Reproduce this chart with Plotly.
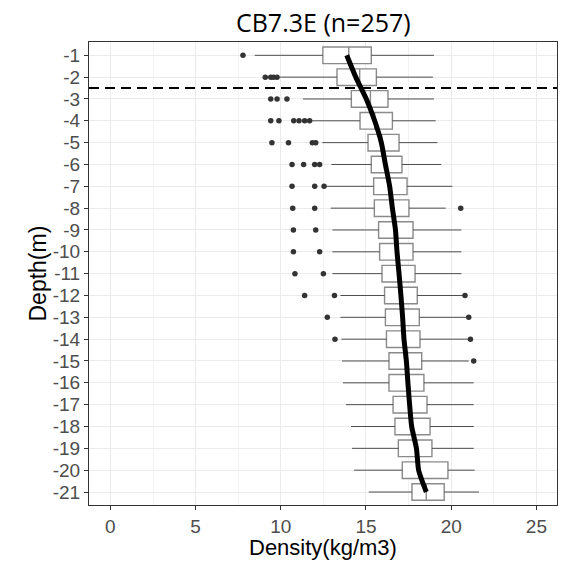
import plotly.graph_objects as go

depths = [-1, -2, -3, -4, -5, -6, -7, -8, -9, -10, -11, -12, -13, -14, -15, -16, -17, -18, -19, -20, -21]
depth_labels = [str(d) for d in depths]

lower_whisker = [8.47, 9.93, 11.30, 11.75, 12.44, 12.97, 12.68, 12.93, 13.03, 13.03, 13.03,
                 13.50, 13.50, 13.56, 13.59, 13.65, 13.83, 14.12, 14.18, 14.30, 15.16]
q1 = [12.47, 13.30, 14.14, 14.65, 15.12, 15.31, 15.45, 15.49, 15.74, 15.80, 15.94,
      16.09, 16.14, 16.20, 16.35, 16.35, 16.59, 16.70, 16.90, 17.13, 17.70]
median = [13.99, 14.63, 15.26, 15.51, 15.92, 16.15, 16.39, 16.55, 16.72, 16.82, 16.93,
          17.05, 17.15, 17.23, 17.37, 17.46, 17.56, 17.68, 17.96, 18.09, 18.54]
q3 = [15.31, 15.61, 16.29, 16.55, 16.94, 17.11, 17.41, 17.52, 17.76, 17.76, 17.88,
      18.01, 18.13, 18.17, 18.27, 18.40, 18.58, 18.76, 18.87, 19.81, 19.59]
upper_whisker = [18.99, 18.93, 18.99, 19.09, 19.19, 19.42, 20.07, 19.68, 20.60, 20.60, 20.60,
                 20.69, 20.89, 20.99, 21.03, 21.32, 21.32, 21.32, 21.32, 21.38, 21.63]
outliers = {
    -1: [7.78],
    -2: [9.09, 9.41, 9.58, 9.78],
    -3: [9.41, 9.78, 10.36],
    -4: [9.41, 9.89, 10.76, 11.07, 11.40, 11.69],
    -5: [9.48, 10.45, 11.85, 12.05],
    -6: [10.66, 11.34, 11.99, 12.28],
    -7: [10.66, 11.99, 12.54],
    -8: [10.70, 11.99, 20.56],
    -9: [10.74, 12.05],
    -10: [10.74, 12.28],
    -11: [10.83, 12.50],
    -12: [11.40, 13.15, 20.81],
    -13: [12.73, 21.03],
    -14: [13.18, 21.13],
    -15: [21.32],
}
trend = [13.87, 14.40, 15.02, 15.51, 15.90, 16.14, 16.39, 16.55, 16.73, 16.82, 16.94,
         17.05, 17.15, 17.23, 17.37, 17.46, 17.56, 17.68, 17.96, 18.09, 18.54]
boundary_depth = -2.5
title_text = "CB7.3E (n=257)"
x_title = "Density(kg/m3)"
y_title = "Depth(m)"
x_ticks = [0, 5, 10, 15, 20, 25]

fig = go.Figure()

# whiskers
wx, wy = [], []
for d, lo, a, b, hi in zip(depths, lower_whisker, q1, q3, upper_whisker):
    wx += [lo, a, None, b, hi, None]
    wy += [d, d, None, d, d, None]
fig.add_trace(go.Scatter(x=wx, y=wy, mode="lines", line=dict(color="#4d4d4d", width=1),
                         hoverinfo="skip", showlegend=False))

# boxes
fig.add_trace(go.Box(y=depths, q1=q1, median=median, q3=q3, lowerfence=q1, upperfence=q3,
                     orientation="h", width=0.76, boxpoints=False,
                     fillcolor="white", line=dict(color="#8a8a8a", width=1.4),
                     showlegend=False))

# outliers
ox, oy = [], []
for d, vals in outliers.items():
    for v in vals:
        ox.append(v)
        oy.append(d)
fig.add_trace(go.Scatter(x=ox, y=oy, mode="markers",
                         marker=dict(color="#333333", size=5.5), showlegend=False))

# trend line
fig.add_trace(go.Scatter(x=trend, y=depths, mode="lines",
                         line=dict(color="black", width=5, shape="spline", smoothing=0.6),
                         showlegend=False))

fig.add_shape(type="line", xref="paper", yref="y", x0=0, x1=1,
              y0=boundary_depth, y1=boundary_depth,
              line=dict(color="black", width=2, dash="10px,6px"))

# axis titles (placed as annotations for exact positioning)
fig.add_annotation(text=x_title, xref="paper", yref="paper", x=0.5, y=-(547 - 505) / 463,
                   xanchor="center", yanchor="middle", showarrow=False,
                   font=dict(family="Liberation Sans", size=22, color="black"))
fig.add_annotation(text=y_title, xref="paper", yref="paper", x=(37 - 89) / 468, y=0.5,
                   xanchor="center", yanchor="middle", textangle=-90, showarrow=False,
                   font=dict(family="Liberation Sans", size=23, color="black"))

fig.update_layout(
    width=563, height=561,
    margin=dict(l=89, r=6, t=42, b=56),
    paper_bgcolor="white", plot_bgcolor="white",
    title=dict(text=title_text, x=323.3 / 563, xanchor="center", y=1 - 23 / 561, yanchor="middle",
               font=dict(family="Open Sans", size=25, color="black")),
    font=dict(family="Liberation Sans"),
    boxgap=0,
)
fig.update_xaxes(
    range=[-1.256, 26.21], tickvals=x_ticks, ticktext=[str(t) for t in x_ticks],
    showgrid=True, gridcolor="#ebebeb", gridwidth=1,
    minor=dict(dtick=2.5, tick0=0, showgrid=True, gridcolor="#f2f2f2", gridwidth=1),
    showline=True, linecolor="#333333", linewidth=1, mirror=True,
    ticks="outside", ticklen=4, tickcolor="#333333",
    tickfont=dict(family="Liberation Sans", size=19, color="#4d4d4d"), zeroline=False,
)
fig.update_yaxes(
    range=[-21.595, -0.391], tickvals=depths, ticktext=depth_labels,
    showgrid=True, gridcolor="#ebebeb", gridwidth=1,
    showline=True, linecolor="#333333", linewidth=1, mirror=True,
    ticks="outside", ticklen=4, tickcolor="#333333",
    tickfont=dict(family="Liberation Sans", size=19, color="#4d4d4d"), zeroline=False,
)

fig.write_html("out.html")
